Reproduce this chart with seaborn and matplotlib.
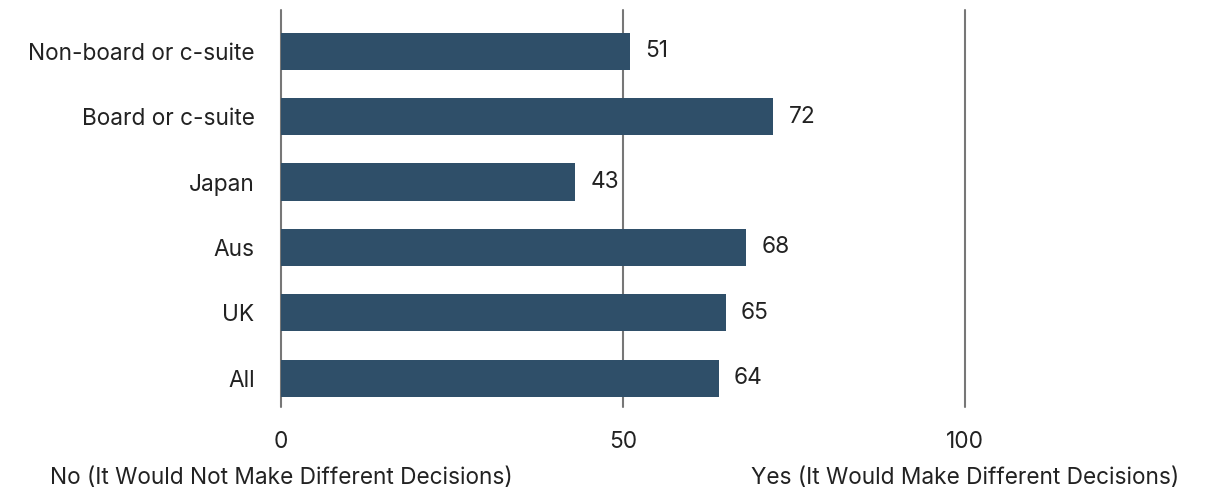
import matplotlib
matplotlib.use("Agg")
import matplotlib.pyplot as plt
import seaborn as sns
import pandas as pd

categories = ["Non-board or c-suite", "Board or c-suite", "Japan", "Aus", "UK", "All"]
values = [51, 72, 43, 68, 65, 64]
x_ticks = [0, 50, 100]
end_labels = ["No (It Would Not Make Different Decisions)",
              "Yes (It Would Make Different Decisions)"]

sns.set_theme(style="white")
plt.rcParams["font.family"] = ["Inter", "DejaVu Sans"]

BAR = "#2f4f69"
TXT = "#222222"
GRID = "#777777"
FS = 16.3

df = pd.DataFrame({"group": categories, "value": values})

fig = plt.figure(figsize=(12.12, 4.92), dpi=100)
ax = fig.add_axes([281 / 1212, (492 - 407) / 492, (965 - 281) / 1212, 397 / 492])

sns.barplot(data=df, x="value", y="group", orient="h", color=BAR,
            width=0.57, saturation=1, linewidth=0, ax=ax, zorder=3)

ax.set_xlim(0, 100)
ax.set_ylim(5.44, -0.63)

for xv in x_ticks:
    ax.axvline(xv, color=GRID, lw=1.5, zorder=1, clip_on=False)

for i, v in enumerate(values):
    ax.text(v + 2.2, i, str(v), va="center", ha="left", fontsize=FS, color=TXT, zorder=4)

ax.set_xticks(x_ticks)
ax.set_xticklabels([str(t) for t in x_ticks], fontsize=FS, color=TXT)
ax.tick_params(axis="x", length=0, pad=17)
ax.tick_params(axis="y", length=0, pad=19, labelsize=FS, labelcolor=TXT)
ax.set_xlabel("")
ax.set_ylabel("")
for s in ax.spines.values():
    s.set_visible(False)

ax.text(0, -0.18, end_labels[0], transform=ax.get_xaxis_transform(),
        ha="center", va="center", fontsize=FS, color=TXT)
ax.text(100, -0.18, end_labels[1], transform=ax.get_xaxis_transform(),
        ha="center", va="center", fontsize=FS, color=TXT)

fig.savefig("out.png", dpi=100, facecolor="white")
